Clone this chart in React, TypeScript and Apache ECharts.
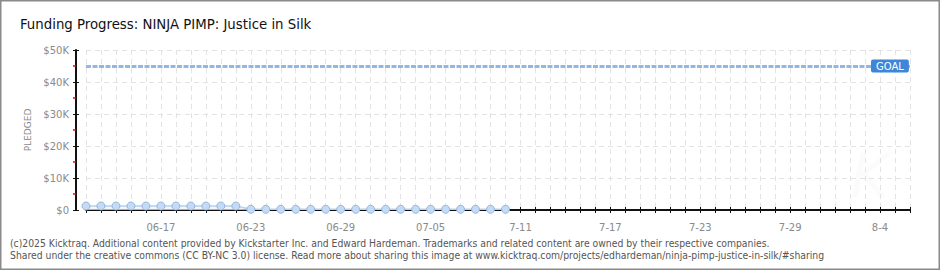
import React, { useEffect, useRef } from "react";
import * as echarts from "echarts";

const TITLE = "Funding Progress: NINJA PIMP: Justice in Silk";
const FOOTER_1 =
  "(c)2025 Kicktraq. Additional content provided by Kickstarter Inc. and Edward Hardeman. Trademarks and related content are owned by their respective companies.";
const FOOTER_2 =
  "Shared under the creative commons (CC BY-NC 3.0) license. Read more about sharing this image at www.kicktraq.com/projects/edhardeman/ninja-pimp-justice-in-silk/#sharing";

// Days from 06-12 to 08-06
const categories: string[] = [
  "06-12","06-13","06-14","06-15","06-16","06-17","06-18","06-19","06-20","06-21",
  "06-22","06-23","06-24","06-25","06-26","06-27","06-28","06-29","06-30","07-01",
  "07-02","07-03","07-04","07-05","07-06","07-07","07-08","07-09","07-10","07-11",
  "07-12","07-13","07-14","07-15","07-16","07-17","07-18","07-19","07-20","07-21",
  "07-22","07-23","07-24","07-25","07-26","07-27","07-28","07-29","07-30","07-31",
  "08-01","08-02","08-03","08-04","08-05","08-06",
];

// Displayed tick labels (category -> text)
const tickCats = ["06-17", "06-23", "06-29", "07-05", "07-11", "07-17", "07-23", "07-29", "08-04"];
const tickTexts = ["06-17", "06-23", "06-29", "07-05", "7-11", "7-17", "7-23", "7-29", "8-4"];

// Pledged amounts ($) per day
const pledged: number[] = [
  1250, 1250, 1250, 1250, 1250, 1250, 1250, 1250, 1250, 1250, 1250,
  220, 220, 220, 220, 220, 220, 220, 220, 220, 220, 220, 220, 220, 220, 220, 220, 220, 220,
];

const GOAL = 45000;
const Y_MAX = 50000;
const Y_STEP = 10000;

const labelFont = "'DejaVu Sans', sans-serif";

export default function App() {
  const ref = useRef<HTMLDivElement>(null);

  useEffect(() => {
    document.body.style.margin = "0";
    const chart = echarts.init(ref.current!, undefined, { renderer: "svg" });

    const tickLabel = (v: string) => {
      const i = tickCats.indexOf(v);
      return i >= 0 ? tickTexts[i] : "";
    };

    const option: any = {
      animation: false,
      backgroundColor: "#ffffff",
      grid: { left: 86, right: 30, top: 50, bottom: 60, containLabel: false },
      xAxis: [
        {
          type: "category",
          data: categories,
          boundaryGap: false,
          offset: 10,
          axisLine: { show: true, lineStyle: { color: "#111", width: 2 } },
          axisTick: { show: true, interval: 0, length: 3, lineStyle: { color: "#111", width: 1 } },
          axisLabel: {
            interval: (idx: number, v: string) => tickCats.indexOf(v) >= 0,
            formatter: (v: string) => tickLabel(v),
            color: "#8a8a8a",
            fontFamily: labelFont,
            fontSize: 10,
            margin: 2,
          },
          splitLine: {
            show: true,
            interval: 0,
            lineStyle: { color: "#e3e3e3", type: [5, 4], width: 1 },
          },
        },
        {
          type: "category",
          data: categories,
          boundaryGap: false,
          position: "bottom",
          offset: 10,
          axisLine: { show: false },
          axisTick: { show: true, inside: true, interval: 0, length: 3, lineStyle: { color: "#111", width: 1 } },
          axisLabel: { show: false },
          splitLine: { show: false },
        },
      ],
      yAxis: [
        {
          type: "value",
          min: 0,
          max: Y_MAX,
          interval: Y_STEP,
          offset: 10,
          name: "PLEDGED",
          nameLocation: "middle",
          nameGap: 42,
          nameRotate: 90,
          nameTextStyle: {
            color: "#8a8a8a",
            fontFamily: labelFont,
            fontSize: 9,
          },
          axisLine: { show: true, lineStyle: { color: "#111", width: 2 } },
          axisTick: { show: true, length: 3, lineStyle: { color: "#111", width: 1 } },
          minorTick: { show: true, splitNumber: 2, length: 3, lineStyle: { color: "#ee0000", width: 1.5 } },
          axisLabel: {
            formatter: (v: number) => (v === 0 ? "$0" : "$" + v / 1000 + "K"),
            color: "#8a8a8a",
            fontFamily: labelFont,
            fontSize: 10,
            margin: 7,
          },
          splitLine: {
            show: true,
            lineStyle: { color: "#e3e3e3", type: [5, 4], width: 1 },
          },
        },
        {
          type: "value",
          min: 0,
          max: Y_MAX,
          interval: Y_STEP,
          offset: 10,
          position: "left",
          axisLine: { show: false },
          axisTick: { show: true, inside: true, length: 3, lineStyle: { color: "#111", width: 1 } },
          axisLabel: { show: false },
          splitLine: { show: false },
        },
      ],
      series: [
        {
          type: "line",
          data: pledged,
          symbol: "circle",
          symbolSize: 8,
          showSymbol: true,
          lineStyle: { color: "#b5d0f0", width: 1.5 },
          itemStyle: { color: "#c4dbf6", borderColor: "#97b6dc", borderWidth: 1 },
          areaStyle: { color: "#edf3fb" },
          markLine: {
            silent: true,
            symbol: "none",
            data: [{ yAxis: GOAL }],
            lineStyle: { color: "#93b7e3", width: 3, type: [5, 1.5] },
            label: {
              show: true,
              position: "end",
              formatter: "GOAL",
              offset: [-44, 0],
              color: "#ffffff",
              backgroundColor: "#3d86d8",
              borderRadius: 2,
              padding: [2, 5, 1, 5],
              fontFamily: labelFont,
              fontSize: 10,
            },
          },
        },
      ],
      graphic: [
        {
          type: "rect",
          shape: { x: 0.75, y: 0.75, width: 938.5, height: 268.5 },
          style: { fill: "none", stroke: "#8a8a8a", lineWidth: 1.5 },
          silent: true,
        },
        {
          type: "text",
          left: 850,
          top: 146,
          silent: true,
          style: {
            text: "K",
            fill: "rgba(0,0,0,0.015)",
            fontSize: 60,
            fontStyle: "italic",
            fontFamily: "'DejaVu Sans', sans-serif",
          },
        },
        {
          type: "text",
          left: 20,
          top: 16,
          style: {
            text: TITLE,
            fill: "#111",
            fontSize: 14.8,
            fontFamily: "'Liberation Sans Narrow', 'DejaVu Sans Condensed', sans-serif",
          },
        },
        {
          type: "text",
          left: 10,
          top: 238,
          style: {
            text: FOOTER_1,
            fill: "#555",
            fontSize: 10.3,
            fontFamily: "'DejaVu Sans Condensed', 'DejaVu Sans', sans-serif",
          },
        },
        {
          type: "text",
          left: 10,
          top: 250,
          style: {
            text: FOOTER_2,
            fill: "#555",
            fontSize: 10.3,
            fontFamily: "'DejaVu Sans Condensed', 'DejaVu Sans', sans-serif",
          },
        },
      ],
    };

    chart.setOption(option);
    return () => chart.dispose();
  }, []);

  return <div ref={ref} style={{ width: 940, height: 270 }} />;
}
